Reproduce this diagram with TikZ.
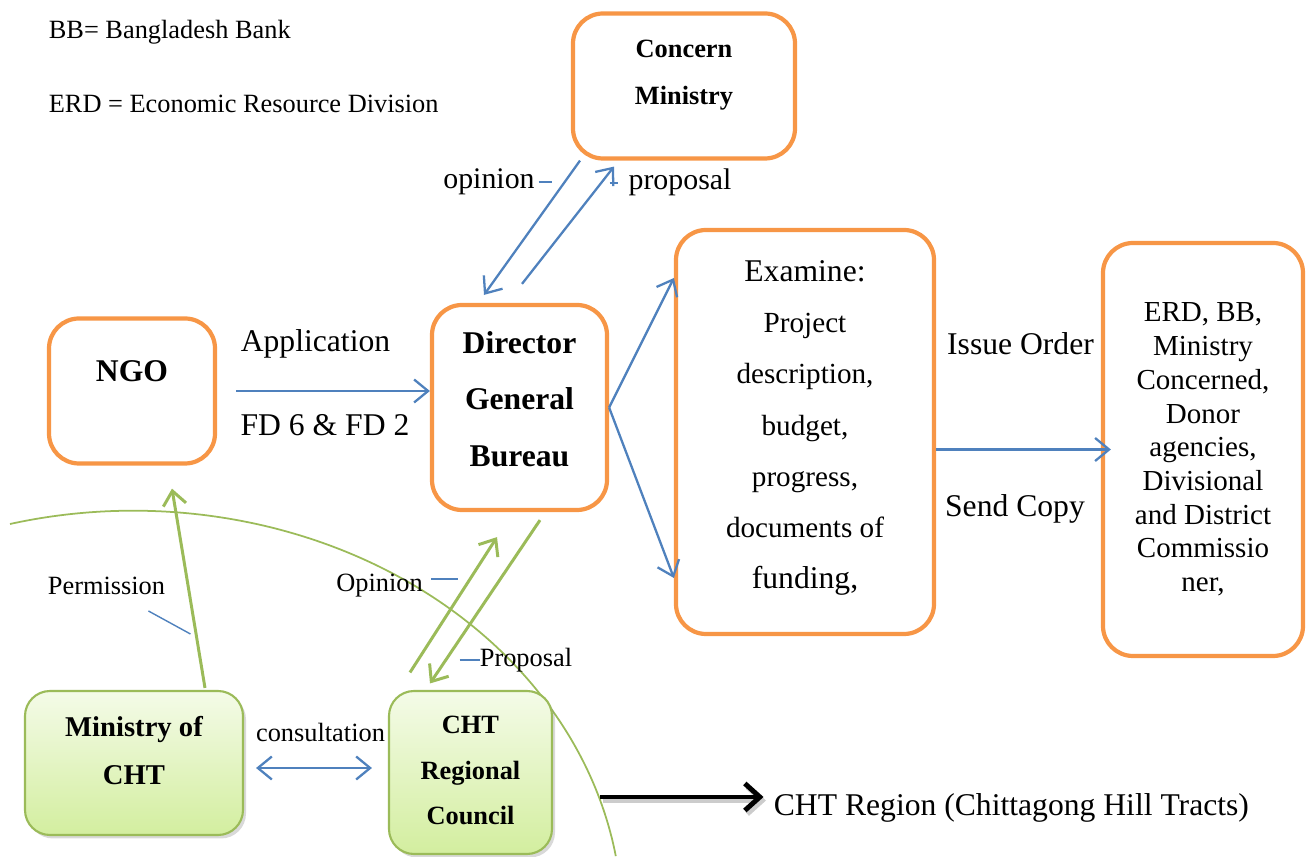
\documentclass[tikz,border=0pt]{standalone}
\usepackage{fontspec}
\setmainfont{Liberation Serif}
\usetikzlibrary{arrows.meta, shadows}
\definecolor{boxorange}{HTML}{F79646}
\definecolor{chtgreen}{HTML}{9BBB59}
\definecolor{chtlight}{HTML}{F4FBE8}
\definecolor{chtfill}{HTML}{D3EE9F}
\definecolor{linkblue}{HTML}{4F81BD}

\begin{document}
\begin{tikzpicture}[
  >={Straight Barb[length=2.8mm, width=4.6mm]},
  office/.style={rectangle, draw=boxorange, line width=2.4pt, rounded corners=0.6cm, fill=white},
  cht/.style={rectangle, draw=chtgreen, line width=1.2pt, rounded corners=0.5cm, top color=chtlight, bottom color=chtfill, drop shadow={shadow xshift=0.06cm, shadow yshift=-0.07cm, opacity=0.3}},
  inbox/.style={align=center, inner sep=0pt},
  note/.style={font=\fontsize{15}{18}\selectfont, inner sep=2pt},
  bignote/.style={font=\fontsize{18}{21}\selectfont, inner sep=2pt},
  flow/.style={draw=linkblue, line width=1.3pt, ->},
  permit/.style={draw=chtgreen, line width=1.7pt, ->},
  leader/.style={draw=linkblue, line width=0.8pt},
  zonearrow/.style={draw=black, line width=2.8pt, -{Straight Barb[length=3mm, width=5.4mm]}}
]
\useasboundingbox (0,0) rectangle (26.14,17.14);

\draw[chtgreen, line width=1pt] (0.2,6.66) arc[start angle=104.6, end angle=9.3, x radius=9.78cm, y radius=8.24cm];

\node[note, anchor=west] (bbnote) at (0.9,16.5) {BB= Bangladesh Bank};
\node[note, anchor=west] (erdnote) at (0.9,15.06) {ERD = Economic Resource Division};

\node[office, minimum width=4.44cm, minimum height=2.9cm,
  label={[inbox, font=\fontsize{15}{26.7}\selectfont\bfseries, yshift=0.21cm]center:{Concern\\Ministry}}] (cm) at (13.68,15.42) {};
\node[office, minimum width=3.32cm, minimum height=2.9cm,
  label={[inbox, font=\fontsize{18}{22}\selectfont\bfseries, yshift=0.4cm]center:NGO}] (ngo) at (2.64,9.32) {};
\node[office, minimum width=3.5cm, minimum height=4.1cm,
  label={[inbox, font=\fontsize{18}{32}\selectfont\bfseries, yshift=0.17cm]center:{Director\\General\\Bureau}}] (dg) at (10.39,8.99) {};
\node[office, minimum width=5.16cm, minimum height=8.08cm,
  label={[inbox, font=\fontsize{16.6}{29.2}\selectfont, yshift=0.08cm]center:{{\fontsize{18}{29.2}\selectfont Examine:}\\Project\\description,\\budget,\\progress,\\documents of\\{\fontsize{18}{29.2}\selectfont funding,}}}] (exam) at (16.10,8.50) {};
\node[office, minimum width=4.0cm, minimum height=8.26cm,
  label={[inbox, font=\fontsize{16.5}{19.2}\selectfont]center:{ERD, BB,\\Ministry\\Concerned,\\Donor\\agencies,\\Divisional\\and District\\Commissio\\ner,}}] (erd) at (24.06,8.15) {};
\node[cht, minimum width=4.36cm, minimum height=2.88cm,
  label={[inbox, font=\fontsize{16.3}{27.3}\selectfont\bfseries, yshift=0.24cm]center:{Ministry of\\CHT}}] (moc) at (2.68,1.88) {};
\node[cht, minimum width=3.26cm, minimum height=3.26cm,
  label={[inbox, font=\fontsize{15}{26}\selectfont\bfseries, yshift=0.04cm]center:{CHT\\Regional\\Council}}] (rc) at (9.41,1.69) {};

\node[bignote] (app) at (6.31,10.26) {Application};
\node[bignote] (fd) at (6.5,8.64) {FD 6 \& FD 2};
\node[bignote] (issue) at (20.41,10.26) {Issue Order};
\node[bignote] (copy) at (20.3,6.96) {Send Copy};
\node[note, font=\fontsize{17}{20}\selectfont] (cmopinion) at (9.78,13.5) {opinion};
\node[note, font=\fontsize{17}{20}\selectfont] (cmproposal) at (13.6,13.5) {proposal};
\node[note] (permission) at (2.13,5.42) {Permission};
\node[note] (chtopinion) at (7.59,5.42) {Opinion};
\node[note] (chtproposal) at (10.52,3.94) {Proposal};
\node[note] (consult) at (6.41,2.5) {consultation};
\node[bignote, anchor=west] (zone) at (15.4,0.98) {CHT Region (Chittagong Hill Tracts)};
\coordinate (zonestart) at (12.0,1.2);

\draw[flow, shorten <=0.38cm] (ngo.east) -- (ngo.east -| dg.west);
\draw[flow] (dg.east) -- ([yshift=3.08cm]exam.west);
\draw[flow] (dg.east) -- ([yshift=-2.92cm]exam.west);
\draw[flow, shorten >=-0.2cm] (exam.east |- erd.west) -- (erd.west);
\draw[flow] ([xshift=-2.08cm]cm.south) -- ([xshift=-0.71cm, yshift=0.16cm]dg.north);
\draw[flow] ([xshift=0.05cm, yshift=0.38cm]dg.north) -- ([xshift=-1.4cm, yshift=-0.12cm]cm.south);
\draw[flow, <->] (moc.east |- 0,1.78) ++(0.24,0) -- ([xshift=-0.32cm]rc.west |- 0,1.78);

\draw[permit] ([xshift=1.42cm, yshift=0.04cm]moc.north) -- ([xshift=0.8cm, yshift=-0.46cm]ngo.south);
\draw[permit] ([xshift=-1.21cm, yshift=0.35cm]rc.north) -- ([xshift=-0.45cm, yshift=-0.5cm]dg.south);
\draw[permit] ([xshift=0.41cm, yshift=-0.16cm]dg.south) -- ([xshift=-0.81cm, yshift=0.13cm]rc.north);

\draw[leader] (cmopinion.east) -- ++(0.26,0);
\draw[leader] ([xshift=-0.3cm, yshift=-0.02cm]cmproposal.west) -- ++(0.16,0)
  ([xshift=-0.22cm, yshift=-0.02cm]cmproposal.west) -- ++(0,0.16);
\draw[leader] ([xshift=-0.41cm, yshift=-0.5cm]permission.east) -- ++(0.84,-0.46);
\draw[leader] ([xshift=0.09cm, yshift=0.14cm]chtopinion.east) -- ++(0.54,0);
\draw[leader] ([xshift=-0.33cm]chtproposal.west) -- ++(0.4,0);

\draw[zonearrow, draw=black!20, transform canvas={shift={(0.05,-0.07)}}, shorten >=0.13cm] (zonestart) -- (zonestart -| zone.west);
\draw[zonearrow, shorten >=0.13cm] (zonestart) -- (zonestart -| zone.west);

\end{tikzpicture}
\end{document}
